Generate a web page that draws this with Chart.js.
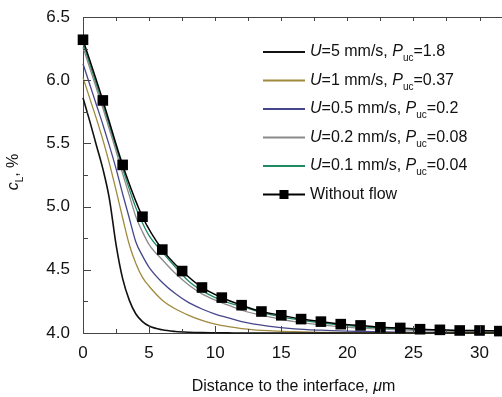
<!DOCTYPE html>
<html>
<head>
<meta charset="utf-8">
<script src="https://cdn.jsdelivr.net/npm/chart.js@4.4.1/dist/chart.umd.min.js"></script>
<style>
  html, body { margin: 0; padding: 0; background: #fff; }
</style>
</head>
<body>
<canvas id="chart" width="502" height="397"></canvas>
<script>
// distance grid (µm) for the flow curves
const distance = [0, 0.5, 1, 1.5, 2, 2.5, 3, 3.5, 4, 4.5, 5, 6, 7, 8, 9, 10, 11, 12, 14, 16, 18, 20, 22, 24, 26, 28, 30, 32];

const cU5   = [5.86, 5.68, 5.49, 5.30, 5.06, 4.70, 4.43, 4.26, 4.15, 4.09, 4.055, 4.025, 4.012, 4.006, 4.003, 4.002, 4.001, 4.0, 4.0, 4.0, 4.0, 4.0, 4.0, 4.0, 4.0, 4.0, 4.0, 4.0];
const cU1   = [6.02, 5.86, 5.70, 5.53, 5.34, 5.13, 4.91, 4.70, 4.55, 4.44, 4.37, 4.26, 4.19, 4.14, 4.10, 4.07, 4.05, 4.035, 4.018, 4.01, 4.005, 4.002, 4.001, 4.0, 4.0, 4.0, 4.0, 4.0];
const cU05  = [6.13, 5.97, 5.81, 5.65, 5.48, 5.30, 5.10, 4.91, 4.72, 4.61, 4.52, 4.40, 4.31, 4.24, 4.19, 4.15, 4.12, 4.09, 4.055, 4.033, 4.022, 4.015, 4.01, 4.007, 4.005, 4.003, 4.002, 4.001];
const cU02  = [6.26, 6.10, 5.94, 5.78, 5.61, 5.44, 5.26, 5.09, 4.92, 4.80, 4.70, 4.58, 4.47, 4.38, 4.31, 4.26, 4.22, 4.18, 4.13, 4.09, 4.065, 4.045, 4.033, 4.025, 4.018, 4.014, 4.011, 4.009];
const cU01  = [6.29, 6.13, 5.97, 5.81, 5.64, 5.47, 5.30, 5.14, 4.99, 4.87, 4.77, 4.64, 4.52, 4.41, 4.335, 4.28, 4.24, 4.21, 4.15, 4.11, 4.08, 4.058, 4.043, 4.033, 4.026, 4.021, 4.018, 4.016];

// without flow (markers every 1.5 µm)
const flowX = [0, 1.5, 3, 4.5, 6, 7.5, 9, 10.5, 12, 13.5, 15, 16.5, 18, 19.5, 21, 22.5, 24, 25.5, 27, 28.5, 30, 31.5];
const flowY = [6.32, 5.84, 5.33, 4.92, 4.66, 4.49, 4.36, 4.28, 4.22, 4.17, 4.14, 4.11, 4.09, 4.07, 4.06, 4.045, 4.04, 4.03, 4.025, 4.02, 4.02, 4.015];

const uValues   = ['5', '1', '0.5', '0.2', '0.1'];
const pucValues = ['1.8', '0.37', '0.2', '0.08', '0.04'];
const colors    = ['#111111', '#a08a3c', '#46468a', '#8a8a8a', '#1f8a62'];
const curves    = [cU5, cU1, cU05, cU02, cU01];

const FONT = '"Liberation Sans", Arial, Helvetica, sans-serif';
const AXIS = '#444';

const toPoints = (xs, ys) => xs.map((x, i) => ({ x, y: ys[i] }));

const datasets = curves.map((ys, i) => ({
  label: `U=${uValues[i]} mm/s, Puc=${pucValues[i]}`,
  legendParts: [
    { t: 'U', it: true },
    { t: `=${uValues[i]} mm/s, ` },
    { t: 'P', it: true },
    { t: 'uc', sub: true },
    { t: `=${pucValues[i]}` }
  ],
  data: toPoints(distance, ys),
  borderColor: colors[i],
  borderWidth: i === 0 ? 1.6 : 1.3,
  pointRadius: 0,
  cubicInterpolationMode: 'monotone',
  clip: false,
  order: 1
}));

datasets.push({
  label: 'Without flow',
  legendParts: [{ t: 'Without flow' }],
  marker: true,
  data: toPoints(flowX, flowY),
  borderColor: '#000',
  backgroundColor: '#000',
  borderWidth: 1.5,
  pointStyle: 'rect',
  pointRadius: 7.5,
  pointBorderWidth: 0,
  cubicInterpolationMode: 'monotone',
  clip: false,
  order: 0
});

function drawRich(ctx, parts, x, y) {
  for (const p of parts) {
    const size = p.sub ? 10 : 16;
    ctx.font = `${p.it ? 'italic ' : ''}${size}px ${FONT}`;
    ctx.fillText(p.t, x, y + (p.sub ? 5 : 0));
    x += ctx.measureText(p.t).width;
  }
  return x;
}

function richWidth(ctx, parts) {
  let w = 0;
  for (const p of parts) {
    const size = p.sub ? 10 : 16;
    ctx.font = `${p.it ? 'italic ' : ''}${size}px ${FONT}`;
    w += ctx.measureText(p.t).width;
  }
  return w;
}

const framePlugin = {
  id: 'frame',
  afterDatasetsDraw(chart) {
    const { ctx, width, chartArea: { left, top, bottom } } = chart;
    const xs = chart.scales.x, ys = chart.scales.y;
    ctx.save();
    ctx.strokeStyle = AXIS;
    ctx.lineWidth = 1;
    ctx.beginPath();
    ctx.moveTo(left, Math.round(top) + 0.5);
    ctx.lineTo(width, Math.round(top) + 0.5);
    // y ticks (inward)
    for (let v = ys.min; v <= ys.max + 1e-9; v += 0.25) {
      const p = Math.round(ys.getPixelForValue(v)) + 0.5;
      const len = Math.abs(v * 2 - Math.round(v * 2)) < 1e-6 ? 8 : 5;
      ctx.moveTo(left, p);
      ctx.lineTo(left + len, p);
    }
    // x ticks bottom (inward) and top
    for (let v = 0; v <= xs.max; v += 2.5) {
      const p = Math.round(xs.getPixelForValue(v)) + 0.5;
      const len = v % 5 === 0 ? 7 : 4;
      ctx.moveTo(p, bottom);
      ctx.lineTo(p, bottom - len);
      ctx.moveTo(p, top);
      ctx.lineTo(p, top + 4);
    }
    ctx.stroke();
    ctx.restore();
  },
  afterDraw(chart) {
    const { ctx } = chart;
    ctx.save();
    ctx.fillStyle = '#111';
    ctx.textBaseline = 'alphabetic';

    // legend
    const lx0 = 263, lx1 = 305, tx = 310, ly0 = 52, step = 28.5;
    chart.data.datasets.forEach((ds, i) => {
      const y = ly0 + i * step;
      ctx.strokeStyle = ds.borderColor;
      ctx.lineWidth = 2;
      ctx.beginPath();
      ctx.moveTo(lx0, y);
      ctx.lineTo(lx1, y);
      ctx.stroke();
      if (ds.marker) {
        ctx.fillStyle = '#000';
        ctx.fillRect((lx0 + lx1) / 2 - 4.5, y - 4.5, 9, 9);
      }
      ctx.fillStyle = '#111';
      drawRich(ctx, ds.legendParts, tx, y + 4);
    });

    // x axis title
    const xParts = [{ t: 'Distance to the interface, ' }, { t: '\u03bc', it: true }, { t: 'm' }];
    const w = richWidth(ctx, xParts);
    drawRich(ctx, xParts, 293.5 - w / 2, 391);

    // y axis title
    const yParts = [{ t: 'c', it: true }, { t: 'L', sub: true }, { t: ', %' }];
    const wy = richWidth(ctx, yParts);
    ctx.translate(18, 172);
    ctx.rotate(-Math.PI / 2);
    drawRich(ctx, yParts, -wy / 2, 0);
    ctx.restore();
  }
};

new Chart(document.getElementById('chart'), {
  type: 'line',
  data: { datasets },
  options: {
    responsive: false,
    animation: false,
    devicePixelRatio: 1,
    layout: { autoPadding: false, padding: { top: 17, right: 0, left: 0, bottom: 0 } },
    plugins: { legend: { display: false }, tooltip: { enabled: false } },
    scales: {
      x: {
        type: 'linear',
        min: 0,
        max: 31.7,
        afterFit: (s) => { s.height = 64; s.paddingLeft = 0; s.paddingRight = 0; },
        border: { color: AXIS, width: 1 },
        grid: { drawOnChartArea: false, drawTicks: false },
        ticks: {
          stepSize: 5,
          includeBounds: false,
          maxRotation: 0,
          autoSkip: false,
          padding: 10,
          color: '#111',
          font: { size: 17, family: FONT }
        }
      },
      y: {
        min: 4,
        max: 6.5,
        afterFit: (s) => { s.width = 83; s.paddingTop = 0; s.paddingBottom = 0; },
        border: { color: AXIS, width: 1 },
        grid: { drawOnChartArea: false, drawTicks: false },
        ticks: {
          stepSize: 0.5,
          padding: 13,
          color: '#111',
          font: { size: 17, family: FONT },
          callback: (v) => v.toFixed(1)
        }
      }
    }
  },
  plugins: [framePlugin]
});
</script>
</body>
</html>
